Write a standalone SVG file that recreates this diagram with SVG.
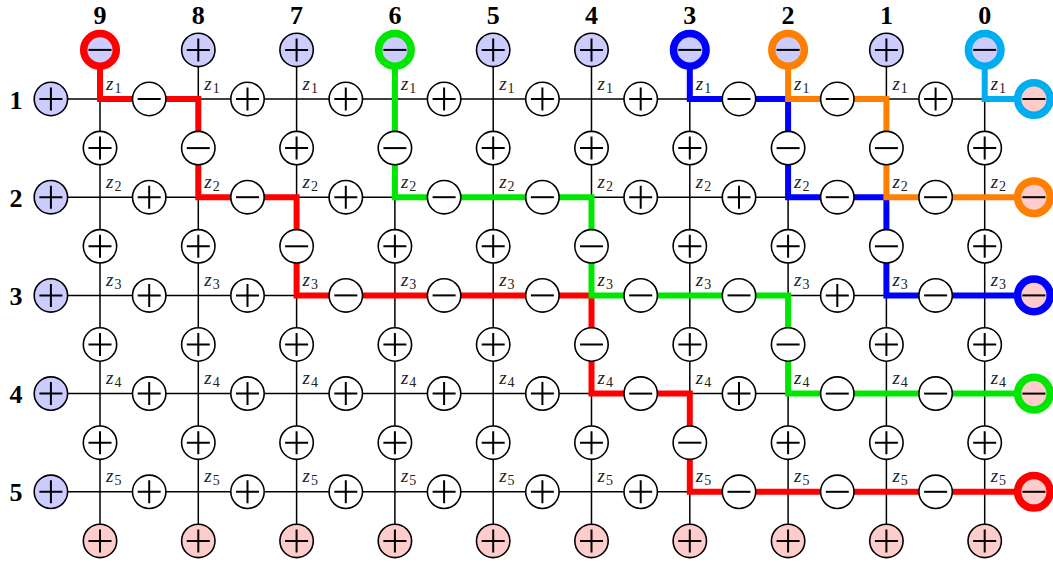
<svg xmlns="http://www.w3.org/2000/svg" xmlns:xlink="http://www.w3.org/1999/xlink" width="1053" height="564" viewBox="0 0 1053 564">
<style>
.grid{stroke:#000;stroke-width:1.5;fill:none}
.path{fill:none;stroke-width:6;stroke-linejoin:miter;stroke-linecap:butt}
.w{fill:#fff;stroke:#000;stroke-width:1.6}
.b{fill:#ccccff;stroke:#000;stroke-width:1.6}
.r{fill:#ffcccc;stroke:#000;stroke-width:1.6}
.ring{stroke-width:7.5}
.sg{stroke:#000;stroke-width:2;fill:none}
.lbl{font-family:"Liberation Serif",serif;font-weight:bold;font-size:26px;text-anchor:middle;fill:#000}
.z{font-family:"Liberation Serif",serif;font-style:italic;font-size:19px;fill:#222}
.s{font-style:normal;font-size:14px}
</style>
<defs>
<path id="P" class="sg" d="M-11.5 0H11.5M0 -11.5V11.5"/>
<path id="M" class="sg" d="M-11.5 0H11.5"/>
</defs>
<g id="labels">
<text class="lbl" x="100" y="23.5">9</text><text class="lbl" x="198.3" y="23.5">8</text><text class="lbl" x="296.6" y="23.5">7</text><text class="lbl" x="394.9" y="23.5">6</text><text class="lbl" x="493.2" y="23.5">5</text><text class="lbl" x="591.5" y="23.5">4</text><text class="lbl" x="689.8" y="23.5">3</text><text class="lbl" x="788.1" y="23.5">2</text><text class="lbl" x="886.4" y="23.5">1</text><text class="lbl" x="984.7" y="23.5">0</text>
<text class="lbl" x="16" y="108.5">1</text><text class="lbl" x="16" y="206.7">2</text><text class="lbl" x="16" y="304.9">3</text><text class="lbl" x="16" y="403.1">4</text><text class="lbl" x="16" y="501.3">5</text>
</g>
<g id="connectors">
<g class="grid">
<path d="M50.9 99H1033.9M50.9 197.2H1033.9M50.9 295.4H1033.9M50.9 393.6H1033.9M50.9 491.8H1033.9"/>
<path d="M100 49.9V540.9M198.3 49.9V540.9M296.6 49.9V540.9M394.9 49.9V540.9M493.2 49.9V540.9M591.5 49.9V540.9M689.8 49.9V540.9M788.1 49.9V540.9M886.4 49.9V540.9M984.7 49.9V540.9"/>
</g>
<path class="path" stroke="#ff0000" d="M100 49.9V99H198.3V197.2H296.6V295.4H591.5V393.6H689.8V491.8H1033.9"/>
<path class="path" stroke="#00e600" d="M394.9 49.9V197.2H591.5V295.4H788.1V393.6H1033.9"/>
<path class="path" stroke="#0000ff" d="M689.8 49.9V99H788.1V197.2H886.4V295.4H1033.9"/>
<path class="path" stroke="#ff8000" d="M788.1 49.9V99H886.4V197.2H1033.9"/>
<path class="path" stroke="#00aeef" d="M984.7 49.9V99H1033.9"/>
</g>
<g id="zlabels">
<text class="z" x="106" y="89.5">z<tspan class="s" dx="1" dy="3">1</tspan></text><text class="z" x="204.3" y="89.5">z<tspan class="s" dx="1" dy="3">1</tspan></text><text class="z" x="302.6" y="89.5">z<tspan class="s" dx="1" dy="3">1</tspan></text><text class="z" x="400.9" y="89.5">z<tspan class="s" dx="1" dy="3">1</tspan></text><text class="z" x="499.2" y="89.5">z<tspan class="s" dx="1" dy="3">1</tspan></text><text class="z" x="597.5" y="89.5">z<tspan class="s" dx="1" dy="3">1</tspan></text><text class="z" x="695.8" y="89.5">z<tspan class="s" dx="1" dy="3">1</tspan></text><text class="z" x="794.1" y="89.5">z<tspan class="s" dx="1" dy="3">1</tspan></text><text class="z" x="892.4" y="89.5">z<tspan class="s" dx="1" dy="3">1</tspan></text><text class="z" x="990.7" y="89.5">z<tspan class="s" dx="1" dy="3">1</tspan></text>
<text class="z" x="106" y="187.7">z<tspan class="s" dx="1" dy="3">2</tspan></text><text class="z" x="204.3" y="187.7">z<tspan class="s" dx="1" dy="3">2</tspan></text><text class="z" x="302.6" y="187.7">z<tspan class="s" dx="1" dy="3">2</tspan></text><text class="z" x="400.9" y="187.7">z<tspan class="s" dx="1" dy="3">2</tspan></text><text class="z" x="499.2" y="187.7">z<tspan class="s" dx="1" dy="3">2</tspan></text><text class="z" x="597.5" y="187.7">z<tspan class="s" dx="1" dy="3">2</tspan></text><text class="z" x="695.8" y="187.7">z<tspan class="s" dx="1" dy="3">2</tspan></text><text class="z" x="794.1" y="187.7">z<tspan class="s" dx="1" dy="3">2</tspan></text><text class="z" x="892.4" y="187.7">z<tspan class="s" dx="1" dy="3">2</tspan></text><text class="z" x="990.7" y="187.7">z<tspan class="s" dx="1" dy="3">2</tspan></text>
<text class="z" x="106" y="285.9">z<tspan class="s" dx="1" dy="3">3</tspan></text><text class="z" x="204.3" y="285.9">z<tspan class="s" dx="1" dy="3">3</tspan></text><text class="z" x="302.6" y="285.9">z<tspan class="s" dx="1" dy="3">3</tspan></text><text class="z" x="400.9" y="285.9">z<tspan class="s" dx="1" dy="3">3</tspan></text><text class="z" x="499.2" y="285.9">z<tspan class="s" dx="1" dy="3">3</tspan></text><text class="z" x="597.5" y="285.9">z<tspan class="s" dx="1" dy="3">3</tspan></text><text class="z" x="695.8" y="285.9">z<tspan class="s" dx="1" dy="3">3</tspan></text><text class="z" x="794.1" y="285.9">z<tspan class="s" dx="1" dy="3">3</tspan></text><text class="z" x="892.4" y="285.9">z<tspan class="s" dx="1" dy="3">3</tspan></text><text class="z" x="990.7" y="285.9">z<tspan class="s" dx="1" dy="3">3</tspan></text>
<text class="z" x="106" y="384.1">z<tspan class="s" dx="1" dy="3">4</tspan></text><text class="z" x="204.3" y="384.1">z<tspan class="s" dx="1" dy="3">4</tspan></text><text class="z" x="302.6" y="384.1">z<tspan class="s" dx="1" dy="3">4</tspan></text><text class="z" x="400.9" y="384.1">z<tspan class="s" dx="1" dy="3">4</tspan></text><text class="z" x="499.2" y="384.1">z<tspan class="s" dx="1" dy="3">4</tspan></text><text class="z" x="597.5" y="384.1">z<tspan class="s" dx="1" dy="3">4</tspan></text><text class="z" x="695.8" y="384.1">z<tspan class="s" dx="1" dy="3">4</tspan></text><text class="z" x="794.1" y="384.1">z<tspan class="s" dx="1" dy="3">4</tspan></text><text class="z" x="892.4" y="384.1">z<tspan class="s" dx="1" dy="3">4</tspan></text><text class="z" x="990.7" y="384.1">z<tspan class="s" dx="1" dy="3">4</tspan></text>
<text class="z" x="106" y="482.3">z<tspan class="s" dx="1" dy="3">5</tspan></text><text class="z" x="204.3" y="482.3">z<tspan class="s" dx="1" dy="3">5</tspan></text><text class="z" x="302.6" y="482.3">z<tspan class="s" dx="1" dy="3">5</tspan></text><text class="z" x="400.9" y="482.3">z<tspan class="s" dx="1" dy="3">5</tspan></text><text class="z" x="499.2" y="482.3">z<tspan class="s" dx="1" dy="3">5</tspan></text><text class="z" x="597.5" y="482.3">z<tspan class="s" dx="1" dy="3">5</tspan></text><text class="z" x="695.8" y="482.3">z<tspan class="s" dx="1" dy="3">5</tspan></text><text class="z" x="794.1" y="482.3">z<tspan class="s" dx="1" dy="3">5</tspan></text><text class="z" x="892.4" y="482.3">z<tspan class="s" dx="1" dy="3">5</tspan></text><text class="z" x="990.7" y="482.3">z<tspan class="s" dx="1" dy="3">5</tspan></text>
</g>
<!-- top boundary -->
<g id="top-9" transform="translate(100,49.9)"><circle class="b ring" style="stroke:#ff0000" r="16.3"/><use href="#M"/></g>
<g id="top-8" transform="translate(198.3,49.9)"><circle class="b" r="16.7"/><use href="#P"/></g>
<g id="top-7" transform="translate(296.6,49.9)"><circle class="b" r="16.7"/><use href="#P"/></g>
<g id="top-6" transform="translate(394.9,49.9)"><circle class="b ring" style="stroke:#00e600" r="16.3"/><use href="#M"/></g>
<g id="top-5" transform="translate(493.2,49.9)"><circle class="b" r="16.7"/><use href="#P"/></g>
<g id="top-4" transform="translate(591.5,49.9)"><circle class="b" r="16.7"/><use href="#P"/></g>
<g id="top-3" transform="translate(689.8,49.9)"><circle class="b ring" style="stroke:#0000ff" r="16.3"/><use href="#M"/></g>
<g id="top-2" transform="translate(788.1,49.9)"><circle class="b ring" style="stroke:#ff8000" r="16.3"/><use href="#M"/></g>
<g id="top-1" transform="translate(886.4,49.9)"><circle class="b" r="16.7"/><use href="#P"/></g>
<g id="top-0" transform="translate(984.7,49.9)"><circle class="b ring" style="stroke:#00aeef" r="16.3"/><use href="#M"/></g>
<!-- right boundary -->
<g id="right-1" transform="translate(1033.9,99)"><circle class="r ring" style="stroke:#00aeef" r="16.3"/><use href="#M"/></g>
<g id="right-2" transform="translate(1033.9,197.2)"><circle class="r ring" style="stroke:#ff8000" r="16.3"/><use href="#M"/></g>
<g id="right-3" transform="translate(1033.9,295.4)"><circle class="r ring" style="stroke:#0000ff" r="16.3"/><use href="#M"/></g>
<g id="right-4" transform="translate(1033.9,393.6)"><circle class="r ring" style="stroke:#00e600" r="16.3"/><use href="#M"/></g>
<g id="right-5" transform="translate(1033.9,491.8)"><circle class="r ring" style="stroke:#ff0000" r="16.3"/><use href="#M"/></g>
<!-- left boundary -->
<g id="left-1" transform="translate(50.9,99)"><circle class="b" r="16.7"/><use href="#P"/></g>
<g id="left-2" transform="translate(50.9,197.2)"><circle class="b" r="16.7"/><use href="#P"/></g>
<g id="left-3" transform="translate(50.9,295.4)"><circle class="b" r="16.7"/><use href="#P"/></g>
<g id="left-4" transform="translate(50.9,393.6)"><circle class="b" r="16.7"/><use href="#P"/></g>
<g id="left-5" transform="translate(50.9,491.8)"><circle class="b" r="16.7"/><use href="#P"/></g>
<!-- bottom boundary -->
<g id="bot-9" transform="translate(100,540.9)"><circle class="r" r="16.7"/><use href="#P"/></g>
<g id="bot-8" transform="translate(198.3,540.9)"><circle class="r" r="16.7"/><use href="#P"/></g>
<g id="bot-7" transform="translate(296.6,540.9)"><circle class="r" r="16.7"/><use href="#P"/></g>
<g id="bot-6" transform="translate(394.9,540.9)"><circle class="r" r="16.7"/><use href="#P"/></g>
<g id="bot-5" transform="translate(493.2,540.9)"><circle class="r" r="16.7"/><use href="#P"/></g>
<g id="bot-4" transform="translate(591.5,540.9)"><circle class="r" r="16.7"/><use href="#P"/></g>
<g id="bot-3" transform="translate(689.8,540.9)"><circle class="r" r="16.7"/><use href="#P"/></g>
<g id="bot-2" transform="translate(788.1,540.9)"><circle class="r" r="16.7"/><use href="#P"/></g>
<g id="bot-1" transform="translate(886.4,540.9)"><circle class="r" r="16.7"/><use href="#P"/></g>
<g id="bot-0" transform="translate(984.7,540.9)"><circle class="r" r="16.7"/><use href="#P"/></g>
<!-- horizontal edges row 1 -->
<g id="h1-1" transform="translate(149.2,99)"><circle class="w" r="16.7"/><use href="#M"/></g>
<g id="h1-2" transform="translate(247.5,99)"><circle class="w" r="16.7"/><use href="#P"/></g>
<g id="h1-3" transform="translate(345.8,99)"><circle class="w" r="16.7"/><use href="#P"/></g>
<g id="h1-4" transform="translate(444.1,99)"><circle class="w" r="16.7"/><use href="#P"/></g>
<g id="h1-5" transform="translate(542.4,99)"><circle class="w" r="16.7"/><use href="#P"/></g>
<g id="h1-6" transform="translate(640.7,99)"><circle class="w" r="16.7"/><use href="#P"/></g>
<g id="h1-7" transform="translate(739,99)"><circle class="w" r="16.7"/><use href="#M"/></g>
<g id="h1-8" transform="translate(837.3,99)"><circle class="w" r="16.7"/><use href="#M"/></g>
<g id="h1-9" transform="translate(935.6,99)"><circle class="w" r="16.7"/><use href="#P"/></g>
<!-- row 2 -->
<g id="h2-1" transform="translate(149.2,197.2)"><circle class="w" r="16.7"/><use href="#P"/></g>
<g id="h2-2" transform="translate(247.5,197.2)"><circle class="w" r="16.7"/><use href="#M"/></g>
<g id="h2-3" transform="translate(345.8,197.2)"><circle class="w" r="16.7"/><use href="#P"/></g>
<g id="h2-4" transform="translate(444.1,197.2)"><circle class="w" r="16.7"/><use href="#M"/></g>
<g id="h2-5" transform="translate(542.4,197.2)"><circle class="w" r="16.7"/><use href="#M"/></g>
<g id="h2-6" transform="translate(640.7,197.2)"><circle class="w" r="16.7"/><use href="#P"/></g>
<g id="h2-7" transform="translate(739,197.2)"><circle class="w" r="16.7"/><use href="#P"/></g>
<g id="h2-8" transform="translate(837.3,197.2)"><circle class="w" r="16.7"/><use href="#M"/></g>
<g id="h2-9" transform="translate(935.6,197.2)"><circle class="w" r="16.7"/><use href="#M"/></g>
<!-- row 3 -->
<g id="h3-1" transform="translate(149.2,295.4)"><circle class="w" r="16.7"/><use href="#P"/></g>
<g id="h3-2" transform="translate(247.5,295.4)"><circle class="w" r="16.7"/><use href="#P"/></g>
<g id="h3-3" transform="translate(345.8,295.4)"><circle class="w" r="16.7"/><use href="#M"/></g>
<g id="h3-4" transform="translate(444.1,295.4)"><circle class="w" r="16.7"/><use href="#M"/></g>
<g id="h3-5" transform="translate(542.4,295.4)"><circle class="w" r="16.7"/><use href="#M"/></g>
<g id="h3-6" transform="translate(640.7,295.4)"><circle class="w" r="16.7"/><use href="#M"/></g>
<g id="h3-7" transform="translate(739,295.4)"><circle class="w" r="16.7"/><use href="#M"/></g>
<g id="h3-8" transform="translate(837.3,295.4)"><circle class="w" r="16.7"/><use href="#P"/></g>
<g id="h3-9" transform="translate(935.6,295.4)"><circle class="w" r="16.7"/><use href="#M"/></g>
<!-- row 4 -->
<g id="h4-1" transform="translate(149.2,393.6)"><circle class="w" r="16.7"/><use href="#P"/></g>
<g id="h4-2" transform="translate(247.5,393.6)"><circle class="w" r="16.7"/><use href="#P"/></g>
<g id="h4-3" transform="translate(345.8,393.6)"><circle class="w" r="16.7"/><use href="#P"/></g>
<g id="h4-4" transform="translate(444.1,393.6)"><circle class="w" r="16.7"/><use href="#P"/></g>
<g id="h4-5" transform="translate(542.4,393.6)"><circle class="w" r="16.7"/><use href="#P"/></g>
<g id="h4-6" transform="translate(640.7,393.6)"><circle class="w" r="16.7"/><use href="#M"/></g>
<g id="h4-7" transform="translate(739,393.6)"><circle class="w" r="16.7"/><use href="#P"/></g>
<g id="h4-8" transform="translate(837.3,393.6)"><circle class="w" r="16.7"/><use href="#M"/></g>
<g id="h4-9" transform="translate(935.6,393.6)"><circle class="w" r="16.7"/><use href="#M"/></g>
<!-- row 5 -->
<g id="h5-1" transform="translate(149.2,491.8)"><circle class="w" r="16.7"/><use href="#P"/></g>
<g id="h5-2" transform="translate(247.5,491.8)"><circle class="w" r="16.7"/><use href="#P"/></g>
<g id="h5-3" transform="translate(345.8,491.8)"><circle class="w" r="16.7"/><use href="#P"/></g>
<g id="h5-4" transform="translate(444.1,491.8)"><circle class="w" r="16.7"/><use href="#P"/></g>
<g id="h5-5" transform="translate(542.4,491.8)"><circle class="w" r="16.7"/><use href="#P"/></g>
<g id="h5-6" transform="translate(640.7,491.8)"><circle class="w" r="16.7"/><use href="#P"/></g>
<g id="h5-7" transform="translate(739,491.8)"><circle class="w" r="16.7"/><use href="#M"/></g>
<g id="h5-8" transform="translate(837.3,491.8)"><circle class="w" r="16.7"/><use href="#M"/></g>
<g id="h5-9" transform="translate(935.6,491.8)"><circle class="w" r="16.7"/><use href="#M"/></g>
<!-- vertical edges rows 1-2 -->
<g id="v1-1" transform="translate(100,148.1)"><circle class="w" r="16.7"/><use href="#P"/></g>
<g id="v1-2" transform="translate(198.3,148.1)"><circle class="w" r="16.7"/><use href="#M"/></g>
<g id="v1-3" transform="translate(296.6,148.1)"><circle class="w" r="16.7"/><use href="#P"/></g>
<g id="v1-4" transform="translate(394.9,148.1)"><circle class="w" r="16.7"/><use href="#M"/></g>
<g id="v1-5" transform="translate(493.2,148.1)"><circle class="w" r="16.7"/><use href="#P"/></g>
<g id="v1-6" transform="translate(591.5,148.1)"><circle class="w" r="16.7"/><use href="#P"/></g>
<g id="v1-7" transform="translate(689.8,148.1)"><circle class="w" r="16.7"/><use href="#P"/></g>
<g id="v1-8" transform="translate(788.1,148.1)"><circle class="w" r="16.7"/><use href="#M"/></g>
<g id="v1-9" transform="translate(886.4,148.1)"><circle class="w" r="16.7"/><use href="#M"/></g>
<g id="v1-10" transform="translate(984.7,148.1)"><circle class="w" r="16.7"/><use href="#P"/></g>
<!-- rows 2-3 -->
<g id="v2-1" transform="translate(100,246.3)"><circle class="w" r="16.7"/><use href="#P"/></g>
<g id="v2-2" transform="translate(198.3,246.3)"><circle class="w" r="16.7"/><use href="#P"/></g>
<g id="v2-3" transform="translate(296.6,246.3)"><circle class="w" r="16.7"/><use href="#M"/></g>
<g id="v2-4" transform="translate(394.9,246.3)"><circle class="w" r="16.7"/><use href="#P"/></g>
<g id="v2-5" transform="translate(493.2,246.3)"><circle class="w" r="16.7"/><use href="#P"/></g>
<g id="v2-6" transform="translate(591.5,246.3)"><circle class="w" r="16.7"/><use href="#M"/></g>
<g id="v2-7" transform="translate(689.8,246.3)"><circle class="w" r="16.7"/><use href="#P"/></g>
<g id="v2-8" transform="translate(788.1,246.3)"><circle class="w" r="16.7"/><use href="#P"/></g>
<g id="v2-9" transform="translate(886.4,246.3)"><circle class="w" r="16.7"/><use href="#M"/></g>
<g id="v2-10" transform="translate(984.7,246.3)"><circle class="w" r="16.7"/><use href="#P"/></g>
<!-- rows 3-4 -->
<g id="v3-1" transform="translate(100,344.5)"><circle class="w" r="16.7"/><use href="#P"/></g>
<g id="v3-2" transform="translate(198.3,344.5)"><circle class="w" r="16.7"/><use href="#P"/></g>
<g id="v3-3" transform="translate(296.6,344.5)"><circle class="w" r="16.7"/><use href="#P"/></g>
<g id="v3-4" transform="translate(394.9,344.5)"><circle class="w" r="16.7"/><use href="#P"/></g>
<g id="v3-5" transform="translate(493.2,344.5)"><circle class="w" r="16.7"/><use href="#P"/></g>
<g id="v3-6" transform="translate(591.5,344.5)"><circle class="w" r="16.7"/><use href="#M"/></g>
<g id="v3-7" transform="translate(689.8,344.5)"><circle class="w" r="16.7"/><use href="#P"/></g>
<g id="v3-8" transform="translate(788.1,344.5)"><circle class="w" r="16.7"/><use href="#M"/></g>
<g id="v3-9" transform="translate(886.4,344.5)"><circle class="w" r="16.7"/><use href="#P"/></g>
<g id="v3-10" transform="translate(984.7,344.5)"><circle class="w" r="16.7"/><use href="#P"/></g>
<!-- rows 4-5 -->
<g id="v4-1" transform="translate(100,442.7)"><circle class="w" r="16.7"/><use href="#P"/></g>
<g id="v4-2" transform="translate(198.3,442.7)"><circle class="w" r="16.7"/><use href="#P"/></g>
<g id="v4-3" transform="translate(296.6,442.7)"><circle class="w" r="16.7"/><use href="#P"/></g>
<g id="v4-4" transform="translate(394.9,442.7)"><circle class="w" r="16.7"/><use href="#P"/></g>
<g id="v4-5" transform="translate(493.2,442.7)"><circle class="w" r="16.7"/><use href="#P"/></g>
<g id="v4-6" transform="translate(591.5,442.7)"><circle class="w" r="16.7"/><use href="#P"/></g>
<g id="v4-7" transform="translate(689.8,442.7)"><circle class="w" r="16.7"/><use href="#M"/></g>
<g id="v4-8" transform="translate(788.1,442.7)"><circle class="w" r="16.7"/><use href="#P"/></g>
<g id="v4-9" transform="translate(886.4,442.7)"><circle class="w" r="16.7"/><use href="#P"/></g>
<g id="v4-10" transform="translate(984.7,442.7)"><circle class="w" r="16.7"/><use href="#P"/></g>
</svg>
